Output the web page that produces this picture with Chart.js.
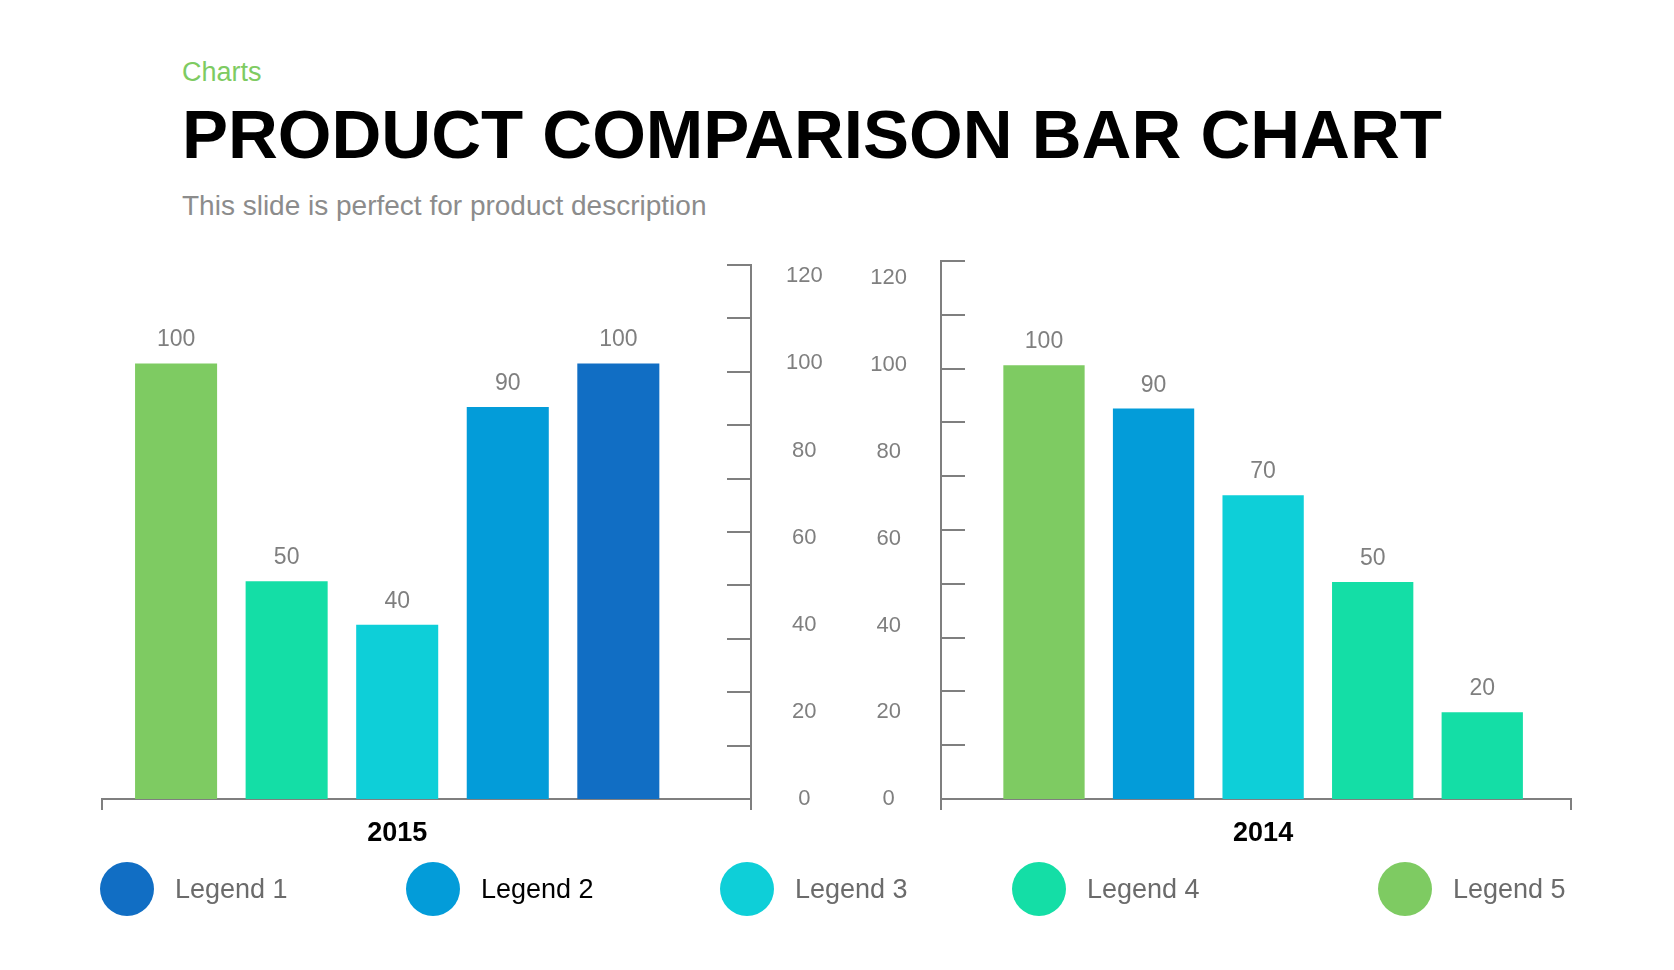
<!DOCTYPE html>
<html lang="en">

<head>
    <title>Product Comparison Bar Chart</title>
    <meta charset="utf-8">
    <script src="https://cdn.jsdelivr.net/npm/chart.js"></script>
    <style>
        body { margin: 0; background: #fff; font-family: "Liberation Sans", Arial, sans-serif; }
        #page { position: relative; width: 1674px; height: 970px; overflow: hidden; }
        .txt { position: absolute; left: 182px; white-space: nowrap; line-height: 1; }
        #kicker { top: 59px; font-size: 27px; color: #7ecb62; }
        #title { top: 100px; font-size: 69px; font-weight: bold; color: #000; }
        #subtitle { top: 192px; font-size: 28px; color: #8c8c8c; }
        .box { position: absolute; top: 230px; height: 640px; }
        #box2015 { left: 0; width: 880px; }
        #box2014 { left: 840px; width: 834px; }
        .legend-item { position: absolute; top: 861px; height: 56px; display: flex; align-items: center; }
        .legend-dot { width: 54px; height: 54px; border-radius: 50%; margin-right: 21px; }
        .legend-text { font-size: 27px; line-height: 1; }
    </style>
</head>

<body>
    <div id="page">
        <div id="kicker" class="txt">Charts</div>
        <div id="title" class="txt">PRODUCT COMPARISON BAR CHART</div>
        <div id="subtitle" class="txt">This slide is perfect for product description</div>

        <div id="box2015" class="box"><canvas id="chart2015"></canvas></div>
        <div id="box2014" class="box"><canvas id="chart2014"></canvas></div>

        <div id="legend"></div>
    </div>

    <script>
        // data
        const years = ['2015', '2014'];
        const values2015 = [100, 50, 40, 90, 100];
        const values2014 = [100, 90, 70, 50, 20];
        const yTickValues = [0, 20, 40, 60, 80, 100, 120];
        const legendLabels = ['Legend 1', 'Legend 2', 'Legend 3', 'Legend 4', 'Legend 5'];

        // styles
        const C = {
            dark: '#116ec4',
            blue: '#039cd9',
            cyan: '#0ecfd8',
            teal: '#14dea6',
            green: '#7ecb62'
        };
        const colors2015 = [C.green, C.teal, C.cyan, C.blue, C.dark];
        const colors2014 = [C.green, C.blue, C.cyan, C.teal, C.teal];
        const legendColors = [C.dark, C.blue, C.cyan, C.teal, C.green];
        const legendTextColors = ['#6b6b6b', '#000', '#6b6b6b', '#6b6b6b', '#6b6b6b'];
        const legendLeft = [100, 406, 720, 1012, 1378];
        const axisGray = '#7f7f7f';
        const fontFamily = '"Liberation Sans", Arial, sans-serif';

        // little tick marks drawn inside the plot, along the y axis
        const innerTicks = {
            id: 'innerTicks',
            afterDraw(chart, args, opts) {
                const s = chart.scales.y;
                const area = chart.chartArea;
                const x0 = opts.side === 'right' ? area.right : area.left;
                const dir = opts.side === 'right' ? -1 : 1;
                const ctx = chart.ctx;
                ctx.save();
                ctx.strokeStyle = axisGray;
                ctx.lineWidth = 2;
                for (let i = 0; i <= 10; i++) {
                    const y = Math.round(s.getPixelForValue(s.min + (s.max - s.min) * i / 10));
                    ctx.beginPath();
                    ctx.moveTo(x0, y);
                    ctx.lineTo(x0 + dir * 24, y);
                    ctx.stroke();
                }
                ctx.restore();
            }
        };

        // value labels above bars
        const barValues = {
            id: 'barValues',
            afterDatasetsDraw(chart) {
                const ctx = chart.ctx;
                const ds = chart.data.datasets[0];
                ctx.save();
                ctx.fillStyle = '#7f7f7f';
                ctx.font = '23px ' + fontFamily;
                ctx.textAlign = 'center';
                ctx.textBaseline = 'alphabetic';
                chart.getDatasetMeta(0).data.forEach((bar, i) => {
                    ctx.fillText(ds.data[i].y, bar.x, bar.y - 17);
                });
                ctx.restore();
            }
        };

        function makeChart(id, year, values, colors, cfg) {
            const mid = Math.floor(values.length / 2);
            return new Chart(document.getElementById(id), {
                type: 'bar',
                data: {
                    datasets: [{
                        label: year,
                        data: values.map((v, i) => ({ x: i, y: v })),
                        backgroundColor: colors,
                        borderWidth: 0,
                        barPercentage: 0.742,
                        categoryPercentage: 1
                    }]
                },
                options: {
                    responsive: true,
                    maintainAspectRatio: false,
                    animation: false,
                    layout: { padding: cfg.padding },
                    plugins: {
                        legend: { display: false },
                        tooltip: { enabled: false },
                        innerTicks: { side: cfg.ySide }
                    },
                    scales: {
                        x: {
                            type: 'linear',
                            offset: false,
                            min: cfg.xMin,
                            max: cfg.xMax,
                            afterBuildTicks: s => { s.ticks = [{ value: s.min }, { value: mid }, { value: s.max }]; },
                            afterFit: s => { s.height = 60; },
                            grid: {
                                offset: false,
                                drawOnChartArea: false,
                                drawTicks: true,
                                tickLength: 11,
                                lineWidth: 2,
                                color: c => (c.tick && c.tick.value === mid) ? 'rgba(0,0,0,0)' : axisGray
                            },
                            border: { display: true, color: axisGray, width: 2 },
                            ticks: {
                                padding: 7,
                                maxRotation: 0,
                                autoSkip: false,
                                color: '#000',
                                font: { family: fontFamily, size: 27, weight: 'bold' },
                                callback: v => v === mid ? year : ''
                            }
                        },
                        y: {
                            position: cfg.ySide,
                            min: 0,
                            max: cfg.yMax,
                            afterBuildTicks: s => { s.ticks = yTickValues.map(v => ({ value: v })); },
                            afterFit: s => {
                                s.width = cfg.yWidth;
                                s.paddingTop = 0;
                                s.paddingBottom = 0;
                            },
                            grid: { display: false, drawTicks: false },
                            border: { display: true, color: axisGray, width: 2 },
                            ticks: {
                                padding: cfg.yPad,
                                crossAlign: 'center',
                                color: '#7f7f7f',
                                font: { family: fontFamily, size: 22 }
                            }
                        }
                    }
                },
                plugins: [innerTicks, barValues]
            });
        }

        makeChart('chart2015', years[0], values2015, colors2015, {
            padding: { left: 102, top: 35, right: 0, bottom: 11 },
            ySide: 'right', yWidth: 129, yPad: 35, yMax: 122.6,
            xMin: -0.67, xMax: 5.2
        });

        makeChart('chart2014', years[1], values2014, colors2014, {
            padding: { left: 0, top: 31, right: 103, bottom: 11 },
            ySide: 'left', yWidth: 101, yPad: 34, yMax: 124,
            xMin: -0.94, xMax: 4.81
        });

        // legend row
        const legend = document.getElementById('legend');
        legendLabels.forEach((lbl, i) => {
            const item = document.createElement('div');
            item.className = 'legend-item';
            item.style.left = legendLeft[i] + 'px';
            item.innerHTML = '<div class="legend-dot" style="background:' + legendColors[i] + '"></div>' +
                '<div class="legend-text" style="color:' + legendTextColors[i] + '">' + lbl + '</div>';
            legend.appendChild(item);
        });
    </script>
</body>

</html>
